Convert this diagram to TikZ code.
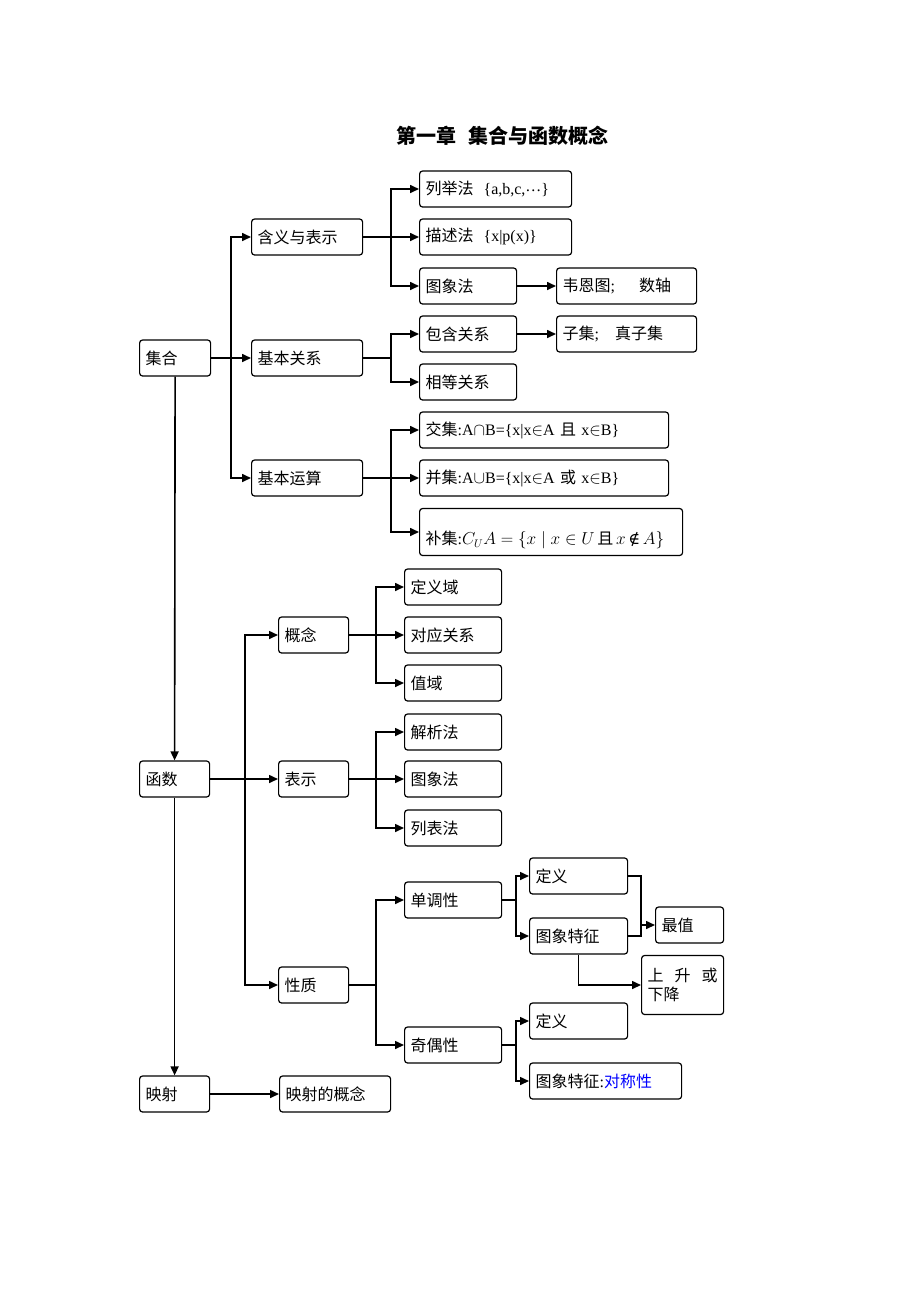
\documentclass[tikz,border=0pt]{standalone}
\usepackage{fontspec}
\setmainfont{Noto Sans CJK SC}
\newfontfamily\tms{Liberation Serif}
\newfontfamily\djv{DejaVu Serif}
\usetikzlibrary{arrows.meta}
\tikzstyle{every path}=[line width=1.6pt]
\tikzstyle{box}=[draw, line width=1.2pt, rounded corners=3pt, anchor=west, align=left,
    minimum height=36pt, inner xsep=6pt, inner ysep=0pt, font=\fontsize{16pt}{19pt}\selectfont]
\tikzstyle{link}=[-{Triangle[length=9pt,width=8pt]}]
\definecolor{symmetry}{RGB}{0,0,255}

\begin{document}
\begin{tikzpicture}[x=1pt, y=-1pt]
            \useasboundingbox (0,0) rectangle (920,1302);
            \node[font=\fontsize{20pt}{24pt}\selectfont\bfseries] (title) at (502,136)
                {第一章\hspace{12pt}集合与函数概念};

            \node[box, text width=59pt] (jihe) at (139,358) {集合};
            \node[box, text width=99pt] (hanyi) at (251,237) {含义与表示};
            \node[box, text width=99pt] (guanxi) at (251,358) {基本关系};
            \node[box, text width=99pt] (yunsuan) at (251,478) {基本运算};
            \node[box, text width=140pt] (liju) at (419,189)
                {列举法\hspace{10pt}{\tms\{a,b,c,\raisebox{3.5pt}{…}\}}};
            \node[box, text width=140pt] (miaoshu) at (419,237)
                {描述法\hspace{10pt}{\tms\{x|p(x)\}}};
            \node[box, text width=85pt] (tuxiang) at (419,286) {图象法};
            \node[box, text width=128pt] (venn) at (556,286) {韦恩图{\tms ;}\hspace{24pt}数轴};
            \node[box, text width=85pt] (baohan) at (419,334) {包含关系};
            \node[box, text width=128pt] (ziji) at (556,334) {子集{\tms ;}\hspace{16pt}真子集};
            \node[box, text width=85pt] (xiangdeng) at (419,382) {相等关系};
            \node[box, text width=237pt] (jiao) at (419,430)
                {交集{\tms :A}$\cap${\tms B=\{x|x}$\in${\tms A} 且 {\tms x}$\in${\tms B\}}};
            \node[box, text width=237pt] (bing) at (419,478)
                {并集{\tms :A}$\cup${\tms B=\{x|x}$\in${\tms A} 或 {\tms x}$\in${\tms B\}}};
            \node[box, text width=251pt, minimum height=47pt] (bu) at (419,532)
                {\rule{0pt}{30pt}补集{\tms :}$C_U A=\{x\mid x\in U$\,且\,$x$\,{\djv ∉}\,$A\}$};

            \node[box, text width=58pt] (hanshu) at (139,779) {函数};
            \node[box, text width=58pt] (gainian) at (278,635) {概念};
            \node[box, text width=58pt] (biaoshi) at (278,779) {表示};
            \node[box, text width=58pt] (xingzhi) at (278,985) {性质};
            \node[box, text width=85pt] (dingyiyu) at (404,587) {定义域};
            \node[box, text width=85pt] (duiying) at (404,635) {对应关系};
            \node[box, text width=85pt] (zhiyu) at (404,683) {值域};
            \node[box, text width=85pt] (jiexi) at (404,732) {解析法};
            \node[box, text width=85pt] (tuxiangfa) at (404,779) {图象法};
            \node[box, text width=85pt] (liebiao) at (404,828) {列表法};
            \node[box, text width=85pt] (dandiao) at (404,900) {单调性};
            \node[box, text width=85pt] (qiou) at (404,1045) {奇偶性};
            \node[box, text width=86pt] (dingyiA) at (529,876) {定义};
            \node[box, text width=86pt] (tezhengA) at (529,936) {图象特征};
            \node[box, text width=56pt] (zuizhi) at (655,925) {最值};
            \node[box, text width=70pt, minimum height=59pt] (shengjiang) at (641,985)
                {上\hfill 升\hfill 或\\下降};
            \node[box, text width=86pt] (dingyiB) at (529,1021) {定义};
            \node[box, text width=140pt] (tezhengB) at (529,1081)
                {图象特征{\tms :}\textcolor{symmetry}{对称性}};
            \node[box, text width=58pt] (yingshe) at (139,1094) {映射};
            \node[box, text width=99pt] (yingsheA) at (279,1094) {映射的概念};

            \coordinate (jA) at ([xshift=20pt]jihe.east);
            \draw (jihe.east) -- (jA);
            \draw[link] (jA) |- (hanyi.west);
            \draw[link] (jA) -- (guanxi.west);
            \draw[link] (jA) |- (yunsuan.west);

            \coordinate (jB) at ([xshift=28pt]hanyi.east);
            \draw (hanyi.east) -- (jB);
            \draw[link] (jB) |- (liju.west);
            \draw[link] (jB) -- (miaoshu.west);
            \draw[link] (jB) |- (tuxiang.west);
            \draw[link] (tuxiang.east) -- (venn.west);

            \coordinate (jC) at ([xshift=28pt]guanxi.east);
            \draw (guanxi.east) -- (jC);
            \draw[link] (jC) |- (baohan.west);
            \draw[link] (jC) |- (xiangdeng.west);
            \draw[link] (baohan.east) -- (ziji.west);

            \coordinate (jD) at ([xshift=28pt]yunsuan.east);
            \draw (yunsuan.east) -- (jD);
            \draw[link] (jD) |- (jiao.west);
            \draw[link] (jD) -- (bing.west);
            \draw[link] (jD) |- (bu.west);

            \draw[link] (jihe.south) -- (hanshu.north);
            \draw[link] (hanshu.south) -- (yingshe.north);
            \draw[link] (yingshe.east) -- (yingsheA.west);

            \coordinate (jE) at ([xshift=35pt]hanshu.east);
            \draw (hanshu.east) -- (jE);
            \draw[link] (jE) |- (gainian.west);
            \draw[link] (jE) -- (biaoshi.west);
            \draw[link] (jE) |- (xingzhi.west);

            \coordinate (jF) at ([xshift=27pt]gainian.east);
            \draw (gainian.east) -- (jF);
            \draw[link] (jF) |- (dingyiyu.west);
            \draw[link] (jF) -- (duiying.west);
            \draw[link] (jF) |- (zhiyu.west);

            \coordinate (jG) at ([xshift=27pt]biaoshi.east);
            \draw (biaoshi.east) -- (jG);
            \draw[link] (jG) |- (jiexi.west);
            \draw[link] (jG) -- (tuxiangfa.west);
            \draw[link] (jG) |- (liebiao.west);

            \coordinate (jH) at ([xshift=27pt]xingzhi.east);
            \draw (xingzhi.east) -- (jH);
            \draw[link] (jH) |- (dandiao.west);
            \draw[link] (jH) |- (qiou.west);

            \coordinate (jI) at ([xshift=14pt]dandiao.east);
            \draw (dandiao.east) -- (jI);
            \draw[link] (jI) |- (dingyiA.west);
            \draw[link] (jI) |- (tezhengA.west);

            \coordinate (jJ) at ([xshift=13pt]dingyiA.east);
            \draw (dingyiA.east) -| (jJ |- tezhengA.east) -- (tezhengA.east);
            \draw[link] (jJ |- zuizhi.west) -- (zuizhi.west);
            \draw[link] (tezhengA.south) |- (shengjiang.west);

            \coordinate (jK) at ([xshift=14pt]qiou.east);
            \draw (qiou.east) -- (jK);
            \draw[link] (jK) |- (dingyiB.west);
            \draw[link] (jK) |- (tezhengB.west);
\end{tikzpicture}
\end{document}
